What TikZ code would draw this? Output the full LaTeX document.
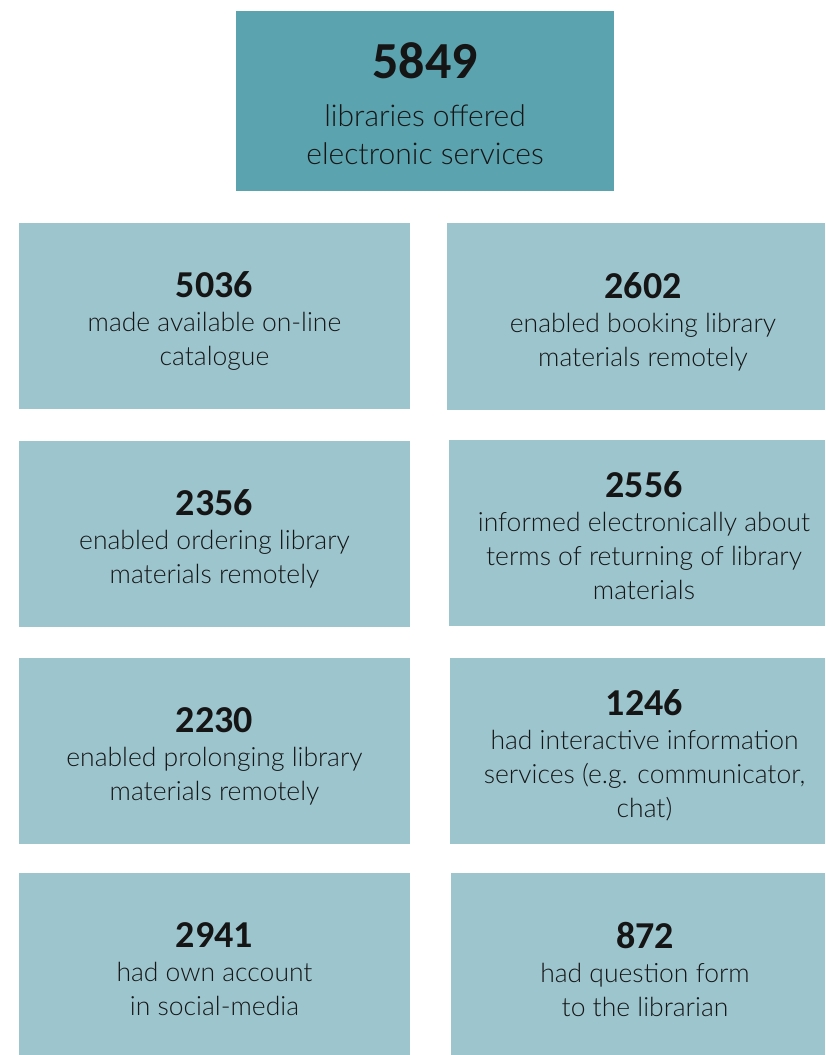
\documentclass[tikz,border=0pt]{standalone}
\usepackage{fontspec}
\setmainfont{Carlito}
\newfontfamily\lightfont{Lato Light}
\definecolor{topfill}{HTML}{5BA3AF}
\definecolor{boxfill}{HTML}{9DC5CE}
\definecolor{txt}{HTML}{151515}
\begin{document}
\begin{tikzpicture}[x=1pt,y=-1pt,
  statbox/.style={rectangle,fill=boxfill,inner sep=0pt},
  topbox/.style={rectangle,fill=topfill,inner sep=0pt},
  stattext/.style={inner sep=0pt,text=txt,align=center,
    font=\lightfont\fontsize{26.5}{34}\selectfont},
  toptext/.style={inner sep=0pt,text=txt,align=center,
    font=\lightfont\fontsize{30}{38}\selectfont},
]
\useasboundingbox (0,0) rectangle (825,1055);
\newcommand{\bignum}[1]{{\normalfont\fontsize{38}{34}\selectfont\bfseries #1}}
\node[topbox,minimum width=378pt,minimum height=180pt] (top) at (425,101) {};
\node[toptext] (toptx) at ([yshift=-3pt]top.center)
  {{\normalfont\fontsize{52}{40}\selectfont\bfseries 5849}\\[10pt]libraries offered\\electronic services};
% left column
\node[statbox,minimum width=391pt,minimum height=186pt] (l1) at (214.5,316) {};
\node[statbox,minimum width=391pt,minimum height=186pt] (l2) at (214.5,534) {};
\node[statbox,minimum width=391pt,minimum height=186pt] (l3) at (214.5,751) {};
\node[statbox,minimum width=391pt,minimum height=182pt] (l4) at (214.5,964) {};
% right column (cut by the right edge)
\node[statbox,minimum width=378pt,minimum height=187pt] (r1) at (636,316.5) {};
\node[statbox,minimum width=376pt,minimum height=186pt] (r2) at (637,533) {};
\node[statbox,minimum width=375pt,minimum height=186pt] (r3) at (637.5,751) {};
\node[statbox,minimum width=374pt,minimum height=182pt] (r4) at (638,964) {};
% texts
\node[stattext] (l1t) at ([yshift=-5pt]l1.center)
  {\bignum{5036}\\made available on-line\\catalogue};
\node[stattext] (l2t) at ([yshift=-5pt]l2.center)
  {\bignum{2356}\\enabled ordering library\\materials remotely};
\node[stattext] (l3t) at ([yshift=-5pt]l3.center)
  {\bignum{2230}\\enabled prolonging library\\materials remotely};
\node[stattext] (l4t) at ([yshift=-5pt]l4.center)
  {\bignum{2941}\\had own account\\in social-media};
\node[stattext] (r1t) at ([xshift=7pt,yshift=-5pt]r1.center)
  {\bignum{2602}\\enabled booking library\\materials remotely};
\node[stattext] (r2t) at ([xshift=7pt,yshift=-3pt]r2.center)
  {\bignum{2556}\\informed electronically about\\terms of returning of library\\materials};
\node[stattext] (r3t) at ([xshift=7pt,yshift=-4pt]r3.center)
  {\bignum{1246}\\had interactive information\\services (e.g. communicator,\\chat)};
\node[stattext] (r4t) at ([xshift=7pt,yshift=-5pt]r4.center)
  {\bignum{872}\\had question form\\to the librarian};
\end{tikzpicture}
\end{document}
